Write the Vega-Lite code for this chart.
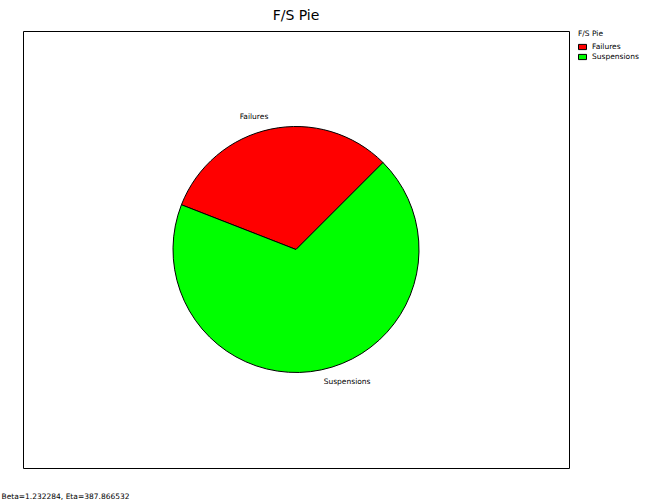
{
  "$schema": "https://vega.github.io/schema/vega-lite/v6.json",
  "description": "F/S pie of failures and suspensions.",
  "autosize": "none",
  "width": 546,
  "height": 437,
  "padding": {"left": 23, "top": 31, "right": 81, "bottom": 33},
  "background": "white",
  "title": {
    "text": "F/S Pie",
    "font": "DejaVu Sans",
    "fontSize": 14,
    "fontWeight": "normal",
    "color": "black",
    "anchor": "middle",
    "offset": 7
  },
  "data": {
    "values": [
      {"category": "Failures", "count": 6},
      {"category": "Suspensions", "count": 13}
    ]
  },
  "layer": [
    {
      "mark": {"type": "arc", "outerRadius": 123, "stroke": "black", "strokeWidth": 1},
      "encoding": {
        "theta": {
          "field": "count",
          "type": "quantitative",
          "stack": true,
          "scale": {"range": [5.0845, 11.3677]}
        },
        "color": {
          "field": "category",
          "type": "nominal",
          "scale": {"domain": ["Failures", "Suspensions"], "range": ["#ff0000", "#00ff00"]},
          "legend": {
            "title": "F/S Pie",
            "orient": "none",
            "legendX": 555,
            "legendY": -1.5,
            "padding": 0,
            "titlePadding": 5.5,
            "rowPadding": -2,
            "labelOffset": 5,
            "symbolType": "M-1,-0.65L1,-0.65L1,0.65L-1,0.65Z",
            "symbolSize": 64,
            "symbolStrokeColor": "black",
            "symbolStrokeWidth": 1,
            "symbolOpacity": 1
          }
        }
      }
    },
    {
      "mark": {"type": "text", "radius": 135, "align": "right", "baseline": "middle", "font": "DejaVu Sans", "fontSize": 7.5, "color": "black"},
      "encoding": {
        "theta": {"field": "count", "type": "quantitative", "stack": true},
        "detail": {"field": "category", "type": "nominal"},
        "text": {"condition": {"test": "datum.category === 'Failures'", "field": "category"}, "value": ""}
      }
    },
    {
      "mark": {"type": "text", "radius": 135, "align": "left", "baseline": "middle", "font": "DejaVu Sans", "fontSize": 7.5, "color": "black"},
      "encoding": {
        "theta": {"field": "count", "type": "quantitative", "stack": true},
        "detail": {"field": "category", "type": "nominal"},
        "text": {"condition": {"test": "datum.category === 'Suspensions'", "field": "category"}, "value": ""}
      }
    },
    {
      "mark": {"type": "rule", "opacity": 0},
      "encoding": {
        "x": {
          "datum": 0,
          "type": "quantitative",
          "scale": {"domain": [0, 1]},
          "axis": {
            "title": "Beta=1.232284, Eta=387.866532",
            "domain": false,
            "ticks": false,
            "labels": false,
            "grid": false,
            "titleX": -22,
            "titleY": 28,
            "titleAlign": "left",
            "titleBaseline": "middle",
            "titleFont": "DejaVu Sans",
            "titleFontSize": 7.5,
            "titleFontWeight": "normal",
            "titleColor": "black"
          }
        }
      }
    }
  ],
  "config": {
    "view": {"stroke": "black", "strokeWidth": 1},
    "legend": {
      "titleFont": "DejaVu Sans",
      "titleFontSize": 7.5,
      "titleFontWeight": "normal",
      "titleColor": "black",
      "labelFont": "DejaVu Sans",
      "labelFontSize": 7.5,
      "labelColor": "black"
    }
  }
}
